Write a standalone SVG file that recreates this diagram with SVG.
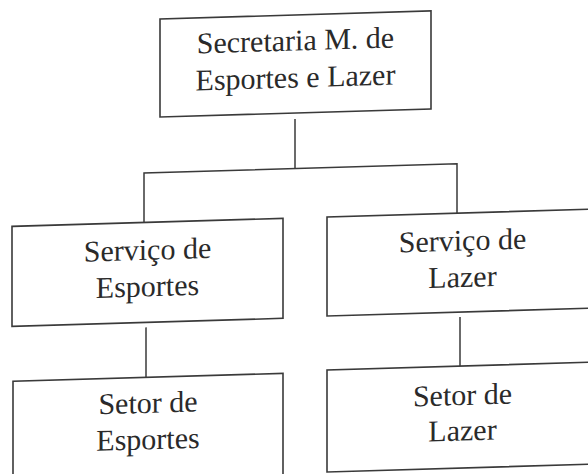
<svg xmlns="http://www.w3.org/2000/svg" width="588" height="474" viewBox="0 0 588 474">
<style>
.box{fill:#ffffff;stroke:#3a3a3a;stroke-width:1.6}
.conn{fill:none;stroke:#3a3a3a;stroke-width:1.5}
.lbl{font-size:30px;fill:#2a2a2a;text-anchor:middle}
</style>
<rect width="588" height="474" fill="#ffffff"/>
<g transform="translate(0,8.73) skewY(-1.7)" font-family="'Liberation Serif', 'Times New Roman', Times, serif">
<g id="connectors">
<path class="conn" d="M295,119 V168.5"/>
<path class="conn" d="M144,218 V168.5 H457 V218"/>
<path class="conn" d="M146,323 V373"/>
<path class="conn" d="M460,322 V371"/>
</g>
<g id="secretaria">
<rect class="box" x="160" y="15" width="271" height="98"/>
<text class="lbl" x="295.5" y="50.5">Secretaria M. de</text>
<text class="lbl" x="295.5" y="87.5">Esportes e Lazer</text>
</g>
<g id="servico-esportes">
<rect class="box" x="12" y="218" width="271" height="100"/>
<text class="lbl" x="147.5" y="255.5">Serviço de</text>
<text class="lbl" x="147.5" y="292">Esportes</text>
</g>
<g id="servico-lazer">
<rect class="box" x="327" y="218" width="271" height="99"/>
<text class="lbl" x="462.5" y="255.5">Serviço de</text>
<text class="lbl" x="462.5" y="292">Lazer</text>
</g>
<g id="setor-esportes">
<rect class="box" x="13" y="373" width="270" height="102"/>
<text class="lbl" x="148" y="408.5">Setor de</text>
<text class="lbl" x="148" y="445">Esportes</text>
</g>
<g id="setor-lazer">
<rect class="box" x="327" y="371" width="271" height="102"/>
<text class="lbl" x="462.5" y="410">Setor de</text>
<text class="lbl" x="462.5" y="445.5">Lazer</text>
</g>
</g>
</svg>
